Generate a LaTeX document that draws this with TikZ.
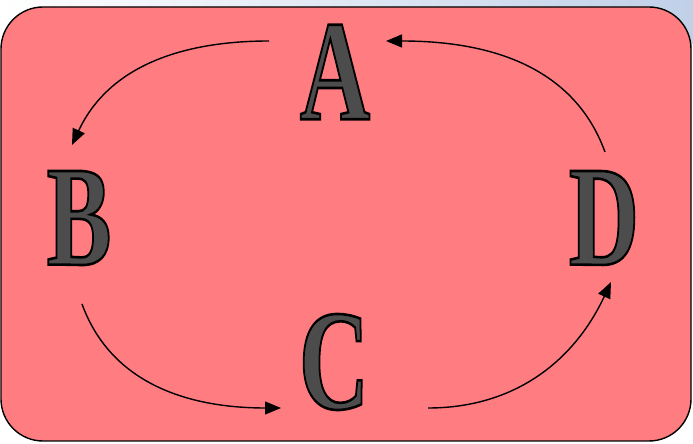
\documentclass[tikz,border=0pt]{standalone}
\usepackage{xcolor}
\usepackage{fontspec}
\usepackage{tikz}
\usetikzlibrary{arrows.meta}

\newfontfamily\letterfont{Liberation Serif}
\definecolor{panelpink}{RGB}{255,125,128}
\definecolor{skyblue}{RGB}{192,208,232}
% narrow letter, filled grey and stroked black for the relief
\newcommand{\relief}[1]{%
  \special{pdf:literal 2 Tr 0 0 0 RG 2.6 w}%
  \scalebox{0.68}[1]{#1}%
  \special{pdf:literal 0 Tr}}

\begin{document}
\begin{tikzpicture}[
  x=1pt, y=1pt,
  panel/.style={
    draw=black,
    fill=panelpink,
    line width=1.4pt,
    rounded corners=42pt
  },
  letter/.style={
    inner sep=0pt,
    text=black!70,
    font=\letterfont\bfseries\fontsize{143}{143}\selectfont
  },
  arrow/.style={-{Triangle[length=16pt,width=13pt]}, line width=1.4pt, black}
]

% --- Background and panel ---
\fill[white] (0,0) rectangle (693,444);
\shade[left color=white, right color=skyblue] (0,400) rectangle (693,444);
\useasboundingbox (0,0) rectangle (693,444);
\draw[panel] (1,3) rectangle (691,437);

% --- Letters ---
\node[letter] (A) at (335,372) {\relief{A}};
\node[letter] (B) at (79,226) {\relief{B}};
\node[letter] (C) at (334,82) {\relief{C}};
\node[letter] (D) at (604,226) {\relief{D}};

% --- Arrow ends ---
\coordinate (ab-start) at (269,403);
\coordinate (ab-end) at (72,299);
\coordinate (bc-start) at (82,140);
\coordinate (bc-end) at (281,36);
\coordinate (cd-start) at (428,36);
\coordinate (cd-end) at (611,162);
\coordinate (da-start) at (605,292);
\coordinate (da-end) at (386,403);

% --- Arrows round the cycle ---
\draw[arrow] (ab-start) to[out=180, in=65] (ab-end);
\draw[arrow] (bc-start) to[out=-70, in=180] (bc-end);
\draw[arrow] (cd-start) to[out=0, in=245] (cd-end);
\draw[arrow] (da-start) to[out=110, in=0] (da-end);

\end{tikzpicture}
\end{document}
